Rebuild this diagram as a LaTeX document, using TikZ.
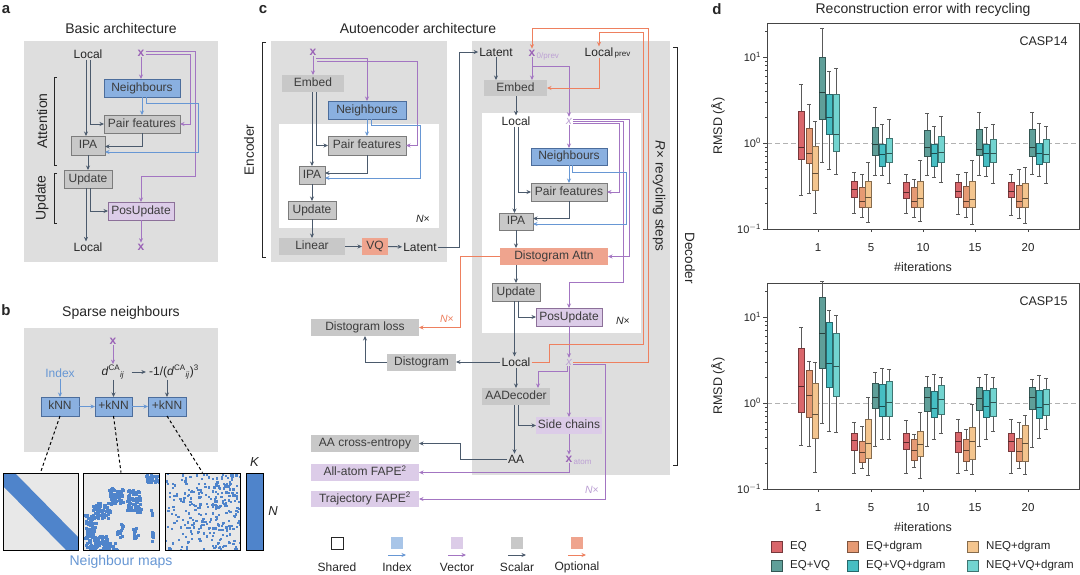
\documentclass[tikz,border=0pt]{standalone}
\usepackage{fontspec}
\setmainfont{Liberation Sans}
\usetikzlibrary{arrows.meta,fit}
\definecolor{bgc}{HTML}{DEDEDE}
\definecolor{txt}{HTML}{262626}
\definecolor{scalF}{HTML}{C8C8C8}
\definecolor{scalD}{HTML}{7C7C7C}
\definecolor{scalA}{HTML}{4B5A6C}
\definecolor{idxF}{HTML}{8AB0E0}
\definecolor{idxD}{HTML}{4C6D9C}
\definecolor{idxA}{HTML}{6797D4}
\definecolor{idxL}{HTML}{A8C5E8}
\definecolor{vecF}{HTML}{DCCCE8}
\definecolor{vecD}{HTML}{8C7099}
\definecolor{vecA}{HTML}{A375C2}
\definecolor{vecX}{HTML}{9A62B6}
\definecolor{vecL}{HTML}{BCA0D4}
\definecolor{optF}{HTML}{EFA48E}
\definecolor{optA}{HTML}{EE805F}
\definecolor{mapF}{HTML}{E8E8E8}
\definecolor{mapB}{HTML}{4F84CB}
\definecolor{cA}{HTML}{D9666B}
\definecolor{cB}{HTML}{E69A73}
\definecolor{cC}{HTML}{F4C58E}
\definecolor{cD}{HTML}{5F9F99}
\definecolor{cE}{HTML}{46BEC3}
\definecolor{cF}{HTML}{72D4D0}
\definecolor{axc}{HTML}{454545}
\definecolor{whc}{HTML}{5A5A5A}
\newcommand\fsz[1]{\fontsize{#1}{#1}\selectfont}
\tikzset{
  every node/.style={text=txt},
  ttl/.style={font=\fsz{14}},
  side/.style={font=\fsz{13.5}},
  lbl/.style={font=\fsz{15}\bfseries},
  tx/.style={font=\fsz{12}, inner sep=1pt},
  xv/.style={font=\fsz{12}\bfseries, text=vecX, inner sep=1pt},
  xi/.style={font=\fsz{11.5}\itshape, text=vecL, inner sep=1pt},
  subv/.style={font=\fsz{8}, text=vecL, inner sep=0pt},
  bx/.style={inner sep=0pt, outer sep=0pt},
  btext/.style={font=\fsz{12}, inner sep=0pt, text height=8.6pt, text depth=2.6pt, text=txt!90},
  sbox/.style={bx, fill=scalF, draw=scalD, line width=0.8pt},
  snb/.style={bx, fill=scalF},
  ibox/.style={bx, fill=idxF, draw=idxD, line width=0.8pt},
  vbox/.style={bx, fill=vecF, draw=vecD, line width=0.8pt},
  vnb/.style={bx, fill=vecF},
  onb/.style={bx, fill=optF},
  ar/.style={line width=1pt, -{Stealth[length=4.5pt,width=4pt]}},
  sa/.style={ar, draw=scalA}, ia/.style={ar, draw=idxA},
  va/.style={ar, draw=vecA}, oa/.style={ar, draw=optA},
  brk/.style={draw=txt, line width=0.9pt},
  nx/.style={font=\fsz{10.5}, inner sep=0pt},
  whisk/.style={draw=whc, line width=0.7pt},
  mapbox/.style={draw=black, line width=0.9pt, inner sep=0pt}
}
% box node: style, name, corners, text
\newcommand\bn[4]{\node[#1, fit={#3}] (#2) {}; \node[btext] at (#2.center) {#4};}
\newcommand\dca{\textit{d}\textsuperscript{CA}\textsubscript{\textit{ij}}}
\newcommand\bxp[7]{%
  \draw[whisk] (#1,#2) -- (#1,#3) (#1,#5) -- (#1,#6) (#1-2,#2) -- (#1+2,#2) (#1-2,#6) -- (#1+2,#6);
  \filldraw[fill=#7, draw=#7!55!black, line width=0.7pt] (#1-3,#3) rectangle (#1+3,#5);
  \draw[draw=#7!40!black, line width=0.9pt] (#1-3,#4) -- (#1+3,#4);}
\def\bxparse#1#2#3/#4/#5/#6/#7\relax{\bxp{#1}{#3}{#4}{#5}{#6}{#7}{#2}}
\newcommand\grp[7]{%
  \bxparse{#1-17}{cA}#2\relax
  \bxparse{#1-9}{cB}#3\relax
  \bxparse{#1-3}{cC}#4\relax
  \bxparse{#1+4}{cD}#5\relax
  \bxparse{#1+11}{cE}#6\relax
  \bxparse{#1+18}{cF}#7\relax}
\newcommand\axesat[2]{%
  \draw[dashed, draw=black!30, line width=0.9pt, dash pattern=on 5pt off 3pt] (767,#1-86) -- (1079,#1-86);
  \draw[draw=axc, line width=0.8pt] (767,#1-206) rectangle (1079,#1);
  \foreach \dd/\lab in {0/{$-$1}, 1/0, 2/1} {
    \draw[axc, line width=0.7pt] (767,#1-86*\dd) -- ++(-4,0);
    \node[anchor=east, font=\fsz{11}, inner sep=0pt] at (761,#1-86*\dd) {10\textsuperscript{\lab}};}
  \foreach \dd in {0,1} {\foreach \k in {2,...,9} {
    \draw[axc, line width=0.5pt] (767,{#1-86*\dd-86*log10(\k)}) -- ++(-2,0);}}
  \draw[axc, line width=0.5pt] (767,{#1-172-86*log10(2)}) -- ++(-2,0);
  \foreach \xx/\lab in {818/1,871/5,923/10,975/15,1028/20} {
    \draw[axc, line width=0.7pt] (\xx,#1) -- ++(0,3);
    \node[font=\fsz{11.5}] at (\xx,#1+19) {\lab};}
  \node[font=\fsz{12.5}] at (923,#1+38) {\#iterations};
  \node[font=\fsz{12.5}, anchor=east] at (1071,#1-187.5) {#2};
  \node[font=\fsz{12.5}, rotate=90] at (718,#1-103) {RMSD (Å)};
}
\begin{document}
\begin{tikzpicture}[x=1pt,y=-1pt]
\useasboundingbox (0,0) rectangle (1080,574);
\fill[white] (0,0) rectangle (1080,574);

%% ---------------- panel a
\node[lbl] at (6,10) {a};
\node[ttl] at (121,28) {Basic architecture};
\fill[bgc] (24,41) rectangle (218,262);
\node[tx] (aL) at (88,54) {Local};
\node[xv] (aX) at (141,53) {x};
\bn{ibox}{aNb}{(104,79)(180,97)}{Neighbours}
\bn{sbox}{aPF}{(104,115)(180,133)}{Pair features}
\bn{sbox}{aIPA}{(71,136)(105,155)}{IPA}
\bn{sbox}{aUp}{(64,170)(112,188)}{Update}
\bn{vbox}{aPU}{(108,202)(174,220)}{PosUpdate}
\node[tx] (aL2) at (88,247) {Local};
\node[xv] (aX2) at (141,247) {x};
\draw[sa] ([xshift=-2]aL.south) -- ([xshift=-2]aL.south |- aIPA.north);
\draw[sa] ([xshift=2]aL.south) |- (aPF.west);
\draw[va] (aX) -- (aX |- aNb.north);
\draw[va] ([yshift=1.5]aX.east) -| (195,176) -| (aPU.north);
\draw[va] ([yshift=-1.5]aX.east) -| (190,124) -- (aPF.east);
\draw[ia] (aNb) -- (aPF);
\draw[ia] ([xshift=4]aNb.south) -- ++(0,6) -| (198,152) -- ([yshift=-6.5]aIPA.east);
\draw[sa] (aPF.south) |- ([yshift=-1]aIPA.east);
\draw[sa] (aIPA) -- (aUp);
\draw[sa] ([xshift=-2]aUp.south) -- ([xshift=-2]aUp.south |- aL2.north);
\draw[sa] ([xshift=2]aUp.south) |- (aPU.west);
\draw[va] (aPU) -- (aX2);
\draw[brk] (57,77) -- (54,77) -- (54,165) -- (57,165);
\draw[brk] (57,173) -- (54,173) -- (54,223) -- (57,223);
\node[font=\fsz{14}, rotate=90] at (42,121) {Attention};
\node[font=\fsz{14}, rotate=90] at (42,198) {Update};

%% ---------------- panel b
\node[lbl] at (6,310) {b};
\node[ttl] at (121,313) {Sparse neighbours};
\fill[bgc] (24,328) rectangle (218,452);
\node[xv] (bX) at (113,341) {x};
\node[tx, text=idxA] (bIdx) at (60,373) {Index};
\node[tx] (bD) at (113,372) {\dca};
\node[tx] (bF) at (174,372) {-1/(\dca)\textsuperscript{3}};
\bn{ibox}{k1}{(41,397)(79,416)}{kNN}
\bn{ibox}{k2}{(95,397)(132,416)}{+kNN}
\bn{ibox}{k3}{(148,397)(186,416)}{+kNN}
\draw[va] (bX) -- (bX |- bD.north);
\draw[ia] (bIdx) -- (bIdx |- k1.north);
\draw[sa] (bD.south -| k2.north) -- (k2.north);
\draw[sa] ([xshift=6]bD.east) -- ([xshift=-2]bF.west);
\draw[sa] (bF.south -| k3.north) -- (k3.north);
\draw[ia] (k1) -- (k2);
\draw[ia] (k2) -- (k3);
% maps
\fill[mapF] (3,473) rectangle (78,550);
\fill[mapF] (83,473) rectangle (159,550);
\fill[mapF] (165,473) rectangle (240,550);
\begin{scope}
\clip (3,473) rectangle (78,550);
\fill[mapB] (3,473) -- (15,473) -- (78,537) -- (78,550) -- (66,550) -- (3,486) -- cycle;
\end{scope}
\begin{scope}
\clip (83,473) rectangle (159,550);
\pgfmathsetseed{7}
\foreach \cx/\cy/\w/\h/\n in {145/474/14/7/30, 108/487/14/16/55, 126/488/14/24/75, 92/502/18/15/55, 84/522/12/28/70, 95/534/12/16/40, 84/514/8/9/15, 116/522/6/14/12, 132/526/6/12/12, 149/505/3/9/6, 150/528/4/12/8, 101/541/16/9/20} {
  \foreach \i in {1,...,\n} {
    \fill[mapB] ({\cx+\w*rnd},{\cy+\h*rnd}) rectangle ++(3,3);
  }
}
\end{scope}
\begin{scope}
\clip (165,473) rectangle (240,550);
\pgfmathsetseed{11}
\foreach \i in {1,...,300} {
  \pgfmathsetmacro\ra{rnd}\pgfmathsetmacro\rb{rnd}
  \fill[mapB] ({165+75*(\ra^0.7)},{473+77*(1-\rb^0.75)}) rectangle ++(2.2,2.2);
}
\end{scope}
\node[mapbox, fit={(3,473)(78,550)}] (m1) {};
\node[mapbox, fit={(83,473)(159,550)}] (m2) {};
\node[mapbox, fit={(165,473)(240,550)}] (m3) {};
\node[mapbox, fill=mapB, fit={(246,473)(263,550)}] (kb) {};
\draw[dashed, line width=1pt, dash pattern=on 3pt off 2.5pt] (k1.south) -- (m1.north);
\draw[dashed, line width=1pt, dash pattern=on 3pt off 2.5pt] (k2.south) -- (m2.north);
\draw[dashed, line width=1pt, dash pattern=on 3pt off 2.5pt] (k3.south) -- (m3.north);
\node[font=\fsz{13}\itshape] at (254.5,462) {K};
\node[font=\fsz{13}\itshape] at (273,511) {N};
\node[font=\fsz{14}, text=idxA] at (121,562) {Neighbour maps};

%% ---------------- panel c : encoder
\node[lbl] at (263,10) {c};
\node[ttl] at (418,28) {Autoencoder architecture};
\draw[brk] (266,42) -- (262,42) -- (262,257) -- (266,257);
\node[side, rotate=90] at (249,150) {Encoder};
\fill[bgc] (271,41) rectangle (447,262);
\fill[white] (279,124) rectangle (439,228);
\node[xv] (eX) at (313,52) {x};
\bn{snb}{eEm}{(282,75)(344,92)}{Embed}
\bn{ibox}{eNb}{(328,101)(406,119)}{Neighbours}
\bn{sbox}{ePF}{(328,136)(406,155)}{Pair features}
\bn{sbox}{eIPA}{(299,166)(325,184)}{IPA}
\bn{sbox}{eUp}{(288,201)(336,219)}{Update}
\node[nx] at (423,219) {\textit{N}×};
\bn{snb}{eLin}{(279,238)(345,255)}{Linear}
\bn{onb}{eVQ}{(362,238)(388,255)}{VQ}
\node[tx] (eLat) at (420,247) {Latent};
\draw[va] (eX) -- (eX |- eEm.north);
\draw[va] ([xshift=3,yshift=-2]eX.south) -| (eNb.north);
\draw[va] ([xshift=4,yshift=-5]eX.south) -| (417,145.5) -- (ePF.east);
\draw[sa] ([xshift=3]eEm.south) |- (ePF.west);
\draw[sa] ([xshift=-1]eEm.south) -- ([xshift=-1]eEm.south |- eIPA.north);
\draw[ia] (eNb) -- (ePF);
\draw[ia] ([xshift=4]eNb.south) -- ++(0,6) -| (420,178) -- ([yshift=-3]eIPA.east);
\draw[sa] (ePF.south) |- ([yshift=2]eIPA.east);
\draw[sa] (eIPA) -- (eUp);
\draw[sa] (eUp) -- (eUp |- eLin.north);
\draw[sa] (eLin) -- (eVQ);
\draw[sa] (eVQ) -- (eLat);

%% ---------------- panel c : decoder
\fill[bgc] (472,41) rectangle (670,475);
\fill[white] (482,113) rectangle (641,333);
\draw[brk] (673,47) -- (677,47) -- (677,465) -- (673,465);
\node[side, rotate=-90] at (690,258) {Decoder};
\node[side, rotate=-90] at (659,196) {\textit{R}× recycling steps};
\node[tx] (dLat) at (496,52) {Latent};
\node[xv] (dX0) at (532,53) {x};
\node[subv, anchor=west] at ([yshift=-3]dX0.east) {0/prev};
\node[tx] (dLp) at (599,52) {Local};
\node[font=\fsz{8}, anchor=west, inner sep=0pt] at ([yshift=-3]dLp.east) {prev};
\bn{snb}{dEm}{(484,80)(547,96)}{Embed}
\node[tx] (dL1) at (516,121) {Local};
\node[xi] (dx1) at (569,121) {x};
\bn{ibox}{dNb}{(531,148)(607,165)}{Neighbours}
\bn{sbox}{dPF}{(531,183)(607,201)}{Pair features}
\bn{sbox}{dIPA}{(499,213)(533,230)}{IPA}
\bn{onb}{dDA}{(500,248)(608,265)}{Distogram Attn}
\bn{sbox}{dUp}{(492,283)(540,301)}{Update}
\bn{vbox}{dPU}{(536,308)(602,326)}{PosUpdate}
\node[nx] at (623,321) {\textit{N}×};
\node[tx] (dL2) at (516,362) {Local};
\node[xi] (dx2) at (569,362) {x};
\bn{snb}{dAAD}{(482,388)(550,405)}{AADecoder}
\bn{vnb}{dSC}{(536,417)(602,434)}{Side chains}
\node[tx] (dAA) at (516,459) {AA};
\node[xv] (dXa) at (569,459) {x};
\node[subv, anchor=west] at ([yshift=-3]dXa.east) {atom};
\bn{snb}{dDL}{(311,319)(419,336)}{Distogram loss}
\bn{snb}{dDg}{(387,354)(456,371)}{Distogram}
\bn{snb}{dCE}{(311,435)(419,452)}{AA cross-entropy}
\bn{vnb}{dAF}{(311,464)(419,481)}{All-atom FAPE\textsuperscript{2}}
\bn{vnb}{dTF}{(311,491)(419,507)}{Trajectory FAPE\textsuperscript{2}}
\node[nx, text=optA] at (447,319) {\textit{N}×};
\node[nx, text=vecL] at (592,490) {\textit{N}×};

\draw[sa] (eLat.east) -- (459,247) |- (dLat.west);
\draw[sa] (dLat) -- (dLat |- dEm.north);
\draw[va] (dX0) -- (dX0 |- dEm.north);
\draw[va] (dX0.south) ++(0,9) -| (dx1.north);
\draw[oa] (dLp.south) |- (dEm.east);
\draw[sa] (dEm.south -| dL1) -- (dL1);
\draw[sa] ([xshift=-1.5]dL1.south) -- ([xshift=-1.5]dL1.south |- dIPA.north);
\draw[sa] ([xshift=2]dL1.south) |- (dPF.west);
\draw[va] (dx1) -- (dNb);
\draw[va] ([yshift=2]dx1.east) -| (629,256.5) -- (dDA.east);
\draw[va] (dx1.east) -| (623,282) -| (dPU.north);
\draw[va] ([yshift=-2]dx1.east) -| (619,192) -- (dPF.east);
\draw[ia] (dNb) -- (dPF);
\draw[ia] ([xshift=3]dNb.south) -- ++(0,7) -| (626,224) -- ([yshift=-2.5]dIPA.east);
\draw[sa] (dPF.south) |- ([yshift=3]dIPA.east);
\draw[sa] (dIPA) -- (dIPA |- dDA.north);
\draw[sa] (dDA.south -| dUp) -- (dUp);
\draw[sa] ([xshift=-1.5]dUp.south) -- ([xshift=-1.5]dUp.south |- dL2.north);
\draw[sa] ([xshift=2]dUp.south) |- (dPU.west);
\draw[va] (dPU) -- (dx2);
\draw[oa] (dDA.west) -| (460,327.5) -- (dDL.east);
\draw[sa] (dL2.west) -- (dL2.west -| dDg.east);
\draw[sa] (dDg.west) -| (dDL.south);
\draw[va] ([yshift=-2.5]dx2.east) -| (605,499) -- (dTF.east);
\draw[oa] (dL2.east) -| (549,344) -| (643,32) -| (dLp.north);
\draw[oa] (dx2.east) -| (648,28) -| (dX0.north);
\draw[sa] (dL2) -- (dAAD);
\draw[va] (dx2) -- (dSC);
\draw[va] ([xshift=-2]dx2.south) -- ++(0,5) -| ([xshift=22]dAAD.north);
\draw[sa] ([xshift=-1.5]dAAD.south) -- ([xshift=-1.5]dAAD.south |- dAA.north);
\draw[sa] ([xshift=2]dAAD.south) |- (dSC.west);
\draw[va] (dSC) -- (dXa);
\draw[sa] (dAA.west) -| (460,443.5) -- (dCE.east);
\draw[va] (dXa.south) |- (dAF.east);

% legend c
\node[draw=txt, line width=0.8pt, minimum size=12pt, inner sep=0pt] (lgS) at (337,543) {};
\node[tx] at (337,567) {Shared};
\foreach \xx/\cl/\fc/\nm in {397/idxA/idxL/Index, 457/vecA/vecF/Vector, 517/scalA/scalF/Scalar, 577/optA/optF/Optional} {
  \node[fill=\fc, minimum size=12pt, inner sep=0pt] at (\xx,543) {};
  \coordinate (la\xx) at (\xx-9,555);
  \coordinate (lb\xx) at (\xx+9,555);
  \draw[ar, draw=\cl, line width=0.9pt] (la\xx) -- (lb\xx);
  \node[tx] at (\xx,567) {\nm};
}

%% ---------------- panel d
\node[lbl] at (717,9) {d};
\node[ttl] at (923,10) {Reconstruction error with recycling};
\axesat{229}{CASP14}
\axesat{489}{CASP15}
% CASP14
\grp{818}{84/111/147/159/195}{104/128/153/163/193}{121/146/173/190/213}{28/57/92/119/162}{71/94/117/134/169}{68/94/134/151/174}
\grp{871}{172/181/189/197/213}{174/187/201/207/217}{162/181/197/207/222}{107/127/144/155/175}{124/144/154/166/175}{119/138/153/162/183}
\grp{923}{174/182/192/198/213}{179/187/201/207/217}{160/181/198/207/221}{113/130/147/156/175}{126/144/153/166/177}{116/136/152/162/182}
\grp{975}{174/182/191/197/214}{172/186/201/207/217}{160/181/199/207/224}{112/129/149/155/175}{127/144/153/166/176}{124/139/153/162/183}
\grp{1028}{174/182/191/197/215}{169/185/201/207/218}{167/183/198/207/223}{112/129/147/156/174}{123/143/153/164/176}{126/139/154/162/183}
% CASP15
\grp{818}{327/348/386/412/445}{361/370/395/417/446}{362/383/414/438/472}{281/297/333/368/423}{310/322/363/387/431}{315/333/366/396/432}
\grp{871}{422/433/440/450/473}{426/441/452/462/468}{397/419/443/458/475}{372/383/397/408/446}{368/384/406/416/439}{369/381/402/416/439}
\grp{923}{420/433/442/449/473}{434/439/450/460/467}{412/431/444/456/478}{376/387/397/411/446}{374/391/408/417/439}{377/385/399/414/433}
\grp{975}{419/432/441/452/473}{429/439/450/461/470}{404/427/441/459/474}{377/387/398/410/446}{374/390/406/417/439}{377/388/402/416/431}
\grp{1028}{419/433/441/451/473}{422/438/451/461/468}{415/425/443/461/474}{379/387/397/409/447}{375/390/407/418/438}{378/389/404/415/429}
% legend d
\foreach \xx/\yy/\cc/\nm in {777/547/cA/EQ, 853/547/cB/EQ+dgram, 973/547/cC/NEQ+dgram, 777/566/cD/EQ+VQ, 853/566/cE/EQ+VQ+dgram, 973/566/cF/NEQ+VQ+dgram} {
  \filldraw[fill=\cc, draw=\cc!55!black, line width=0.7pt] (\xx-5.5,\yy-5.5) rectangle (\xx+5.5,\yy+5.5);
  \node[font=\fsz{11.5}, anchor=west, inner sep=0pt] at (\xx+13,\yy) {\nm};
}
\end{tikzpicture}
\end{document}
